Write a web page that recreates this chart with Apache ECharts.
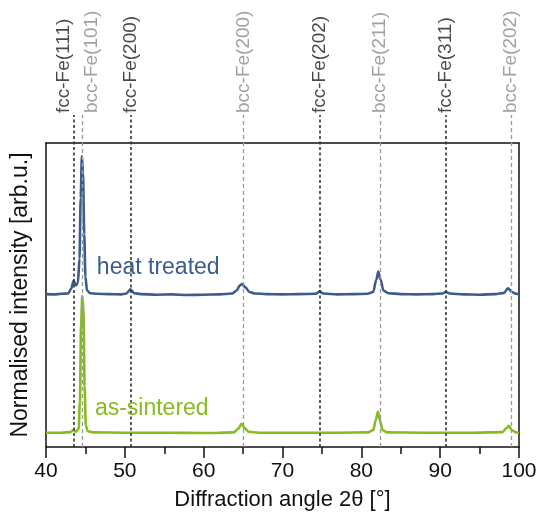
<!DOCTYPE html>
<html>
<head>
<meta charset="utf-8">
<script src="https://cdn.jsdelivr.net/npm/echarts@6/dist/echarts.min.js"></script>
<style>
  html, body { margin: 0; padding: 0; background: #fff; }
  #chart { width: 541px; height: 519px; }
</style>
</head>
<body>
<div id="chart"></div>
<script>
// reflection positions (2theta)
var fccNames = ['fcc-Fe(111)', 'fcc-Fe(200)', 'fcc-Fe(202)', 'fcc-Fe(311)'];
var fccPos = [43.5, 50.75, 74.7, 90.75];
var bccNames = ['bcc-Fe(101)', 'bcc-Fe(200)', 'bcc-Fe(211)', 'bcc-Fe(202)'];
var bccPos = [44.55, 65.05, 82.4, 99.0];

// measured patterns, [2theta, normalised intensity]
var heatTreated = [
  [40.0, 0.503], [41.0, 0.502], [42.0, 0.504], [42.8, 0.505], [43.2, 0.52], [43.5, 0.547],
  [43.8, 0.532], [44.05, 0.54], [44.25, 0.62], [44.4, 0.82], [44.55, 0.957], [44.7, 0.9],
  [44.85, 0.7], [45.0, 0.56], [45.2, 0.515], [45.6, 0.506], [46.5, 0.504], [48.0, 0.503],
  [49.5, 0.502], [50.2, 0.505], [50.7, 0.519], [51.2, 0.506], [52.0, 0.503], [54.0, 0.501],
  [56.0, 0.502], [58.0, 0.5], [60.0, 0.501], [62.0, 0.502], [63.6, 0.505], [64.2, 0.515],
  [64.6, 0.532], [64.9, 0.536], [65.3, 0.525], [65.8, 0.51], [66.5, 0.505], [68.0, 0.503],
  [70.0, 0.502], [72.0, 0.503], [74.2, 0.504], [74.7, 0.511], [75.2, 0.505], [77.0, 0.502],
  [79.0, 0.503], [80.8, 0.504], [81.5, 0.51], [81.9, 0.55], [82.15, 0.577], [82.45, 0.55],
  [82.8, 0.515], [83.4, 0.506], [85.0, 0.503], [87.0, 0.502], [89.0, 0.503], [90.3, 0.505],
  [90.7, 0.51], [91.2, 0.505], [93.0, 0.502], [95.0, 0.501], [97.0, 0.503], [98.1, 0.507],
  [98.6, 0.522], [99.1, 0.51], [99.6, 0.504], [100.0, 0.503]
];
var asSintered = [
  [40.0, 0.047], [42.0, 0.047], [43.1, 0.049], [43.5, 0.056], [43.8, 0.05], [44.15, 0.06],
  [44.3, 0.15], [44.45, 0.4], [44.6, 0.497], [44.75, 0.45], [44.9, 0.2], [45.05, 0.07],
  [45.3, 0.052], [46.0, 0.048], [50.0, 0.047], [55.0, 0.047], [60.0, 0.046], [63.8, 0.048],
  [64.4, 0.06], [64.8, 0.076], [65.2, 0.062], [65.7, 0.05], [67.0, 0.047], [72.0, 0.047],
  [77.0, 0.047], [80.8, 0.048], [81.5, 0.055], [81.85, 0.09], [82.1, 0.116], [82.4, 0.085],
  [82.7, 0.055], [83.3, 0.048], [88.0, 0.047], [94.0, 0.047], [97.9, 0.049], [98.4, 0.062],
  [98.7, 0.07], [99.1, 0.055], [99.6, 0.048], [100.0, 0.047]
];

// series annotations: [name, 2theta, intensity]
var curveLabels = [['heat treated', 46.45, 0.59], ['as-sintered', 46.2, 0.126]];

var xTicks = { min: 40, max: 100, interval: 10 };

var blue = '#3b5c8c';
var green = '#86bc1c';
var font = '"Liberation Sans", Arial, sans-serif';

var chart = echarts.init(document.getElementById('chart'));

// reflection labels and dashed lines
var refl = [];
var lines = [];
for (var i = 0; i < fccPos.length; i++) {
  refl.push({ value: [fccPos[i], 1], name: fccNames[i], kind: 'fcc' });
  refl.push({ value: [bccPos[i], 1], name: bccNames[i], kind: 'bcc' });
}
refl.sort(function (a, b) { return a.value[0] - b.value[0]; });

var labelData = refl.map(function (r, k) {
  var va = 'middle';
  if (k === 0) va = 'bottom';
  if (k === 1) va = 'top';
  return {
    value: r.value,
    name: r.name,
    label: {
      color: r.kind === 'fcc' ? '#1a1a1a' : '#8a8a8a',
      verticalAlign: va
    }
  };
});

lines = refl.map(function (r) {
  return {
    xAxis: r.value[0],
    lineStyle: r.kind === 'fcc'
      ? { color: '#333', width: 1.6, type: [3, 2.5] }
      : { color: '#9a9a9a', width: 1.3, type: [4, 3] }
  };
});

var option = {
  animation: false,
  grid: [
    { left: 46, right: 22, top: 115, bottom: 72, show: false },
    { left: 46, right: 22, top: 143, bottom: 72, show: false }
  ],
  xAxis: [
    { gridIndex: 0, type: 'value', min: xTicks.min, max: xTicks.max, show: false },
    {
      gridIndex: 1, type: 'value', min: xTicks.min, max: xTicks.max, interval: xTicks.interval,
      name: 'Diffraction angle 2θ [°]', nameLocation: 'middle', nameGap: 42,
      nameTextStyle: { fontFamily: font, fontSize: 22, color: '#111' },
      axisLine: { show: true, lineStyle: { color: '#111', width: 1.5 } },
      axisTick: { show: true, length: 11, lineStyle: { color: '#111', width: 1.5 } },
      minorTick: { show: true, splitNumber: 2, length: 7, lineStyle: { color: '#111', width: 1.5 } },
      axisLabel: { fontFamily: font, fontSize: 21, color: '#111', margin: 14 },
      splitLine: { show: false }
    },
    {
      gridIndex: 1, type: 'value', position: 'top', min: xTicks.min, max: xTicks.max,
      axisLine: { show: true, onZero: false, lineStyle: { color: '#111', width: 1.5 } },
      axisTick: { show: false }, axisLabel: { show: false }, splitLine: { show: false }
    }
  ],
  yAxis: [
    { gridIndex: 0, type: 'value', min: 0, max: 1, show: false },
    {
      gridIndex: 1, type: 'value', min: 0, max: 1,
      name: 'Normalised intensity [arb.u.]', nameLocation: 'middle', nameGap: 14,
      nameTextStyle: { fontFamily: font, fontSize: 23, color: '#111' },
      axisLine: { show: true, lineStyle: { color: '#111', width: 1.5 } },
      axisTick: { show: false }, axisLabel: { show: false }, splitLine: { show: false }
    },
    {
      gridIndex: 1, type: 'value', position: 'right', min: 0, max: 1,
      axisLine: { show: true, lineStyle: { color: '#111', width: 1.5 } },
      axisTick: { show: false }, axisLabel: { show: false }, splitLine: { show: false }
    }
  ],
  series: [
    {
      // reflection markers
      type: 'scatter', xAxisIndex: 0, yAxisIndex: 0, z: 2, silent: true,
      symbolSize: 0,
      data: labelData,
      label: {
        show: true, position: 'top', distance: 2, rotate: 90, align: 'left',
        formatter: '{b}', fontFamily: font, fontSize: 19
      },
      markLine: {
        silent: true, symbol: 'none', animation: false,
        label: { show: false },
        data: lines
      }
    },
    {
      type: 'line', xAxisIndex: 1, yAxisIndex: 1, z: 1, data: [], silent: true,
      markPoint: {
        symbol: 'circle', symbolSize: 0, silent: true,
        data: curveLabels.map(function (c, k) {
          return {
            coord: [c[1], c[2]], name: c[0],
            label: {
              show: true, position: 'right', distance: 0, formatter: '{b}',
              fontFamily: font, fontSize: 23, color: k === 0 ? blue : green
            }
          };
        })
      }
    },
    {
      name: 'as-sintered', type: 'line', xAxisIndex: 1, yAxisIndex: 1, z: 3,
      data: asSintered, showSymbol: false, smooth: 0.3, smoothMonotone: 'x',
      lineStyle: { color: green, width: 2.6 }
    },
    {
      name: 'heat treated', type: 'line', xAxisIndex: 1, yAxisIndex: 1, z: 4,
      data: heatTreated, showSymbol: false, smooth: 0.3, smoothMonotone: 'x',
      lineStyle: { color: blue, width: 2.6 }
    }
  ]
};

chart.setOption(option);
</script>
</body>
</html>
